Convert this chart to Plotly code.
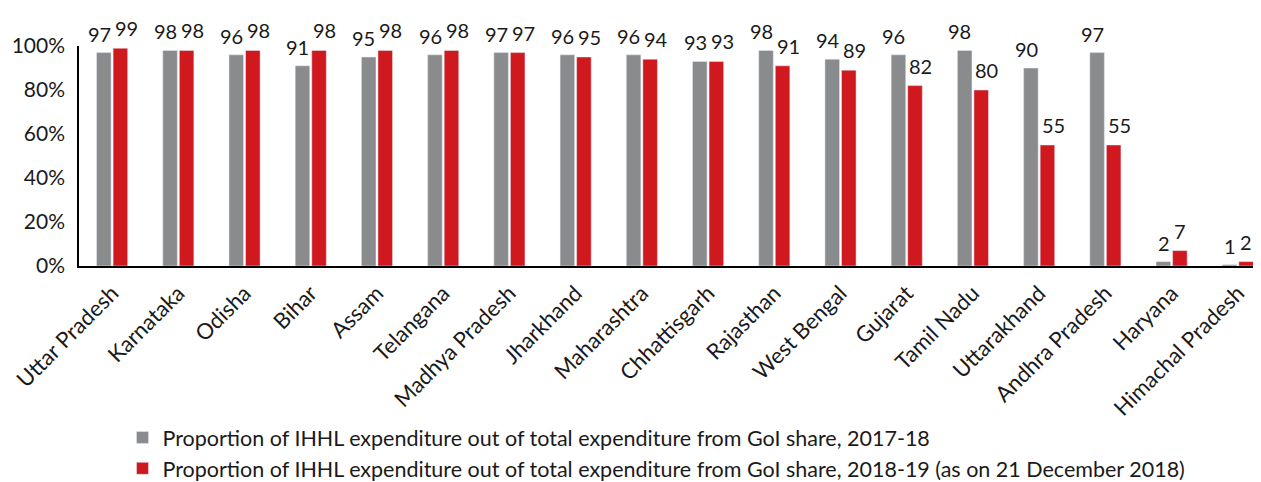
import plotly.graph_objects as go

states = ["Uttar Pradesh", "Karnataka", "Odisha", "Bihar", "Assam", "Telangana",
          "Madhya Pradesh", "Jharkhand", "Maharashtra", "Chhattisgarh", "Rajasthan",
          "West Bengal", "Gujarat", "Tamil Nadu", "Uttarakhand", "Andhra Pradesh",
          "Haryana", "Himachal Pradesh"]
share_2017_18 = [97, 98, 96, 91, 95, 96, 97, 96, 96, 93, 98, 94, 96, 98, 90, 97, 2, 0.6]
share_2018_19 = [99, 98, 98, 98, 98, 98, 97, 95, 94, 93, 91, 89, 82, 80, 55, 55, 7, 2]
name_1 = "Proportion of IHHL expenditure out of total expenditure from GoI share, 2017-18"
name_2 = "Proportion of IHHL expenditure out of total expenditure from GoI share, 2018-19 (as on 21 December 2018)"

FONT = "Lato"
TXT = "#1a1a1a"
GREY = "#8a8b8d"
RED = "#d0181f"

fig = go.Figure()
fig.add_trace(go.Bar(x=states, y=share_2017_18, name=name_1, marker_color=GREY))
fig.add_trace(go.Bar(x=states, y=share_2018_19, name=name_2, marker_color=RED))

annotations = []
for s, a, b in zip(states, share_2017_18, share_2018_19):
    small = max(a, b) < 10
    annotations.append(dict(x=s, y=a, text=f"{a:.0f}", showarrow=False,
                            xanchor="center", yanchor="bottom",
                            xshift=-8 if small else -13, yshift=5,
                            font=dict(size=20, family=FONT, color=TXT)))
    annotations.append(dict(x=s, y=b, text=f"{b:.0f}", showarrow=False,
                            xanchor="center", yanchor="bottom",
                            xshift=8 if small else 14, yshift=6,
                            font=dict(size=20, family=FONT, color=TXT)))

fig.update_layout(
    width=1253, height=474,
    margin=dict(l=71, r=0, t=38, b=216, autoexpand=False),
    barmode="group", bargap=0.5, bargroupgap=0.12,
    plot_bgcolor="white", paper_bgcolor="white",
    font=dict(family=FONT, size=20, color=TXT),
    showlegend=True,
    legend=dict(orientation="v", x=0.0368, y=-0.686, xanchor="left", yanchor="top",
                font=dict(size=21.5, family=FONT, color=TXT), tracegroupgap=2,
                bgcolor="rgba(0,0,0,0)"),
    annotations=annotations,
)
fig.update_xaxes(range=[-0.5, 17.35], tickangle=-45, showline=True, linecolor="black",
                 linewidth=1.5, ticks="", tickfont=dict(size=22, family=FONT, color=TXT),
                 showgrid=False, ticklabelstandoff=4)
fig.update_yaxes(range=[0, 100], tickvals=[0, 20, 40, 60, 80, 100],
                 ticktext=["0%", "20%", "40%", "60%", "80%", "100%"],
                 showline=True, linecolor="black", linewidth=1.5, ticks="",
                 showgrid=False, zeroline=False, ticklabelstandoff=8,
                 tickfont=dict(size=21, family=FONT, color=TXT))

fig.write_html("out.html")
